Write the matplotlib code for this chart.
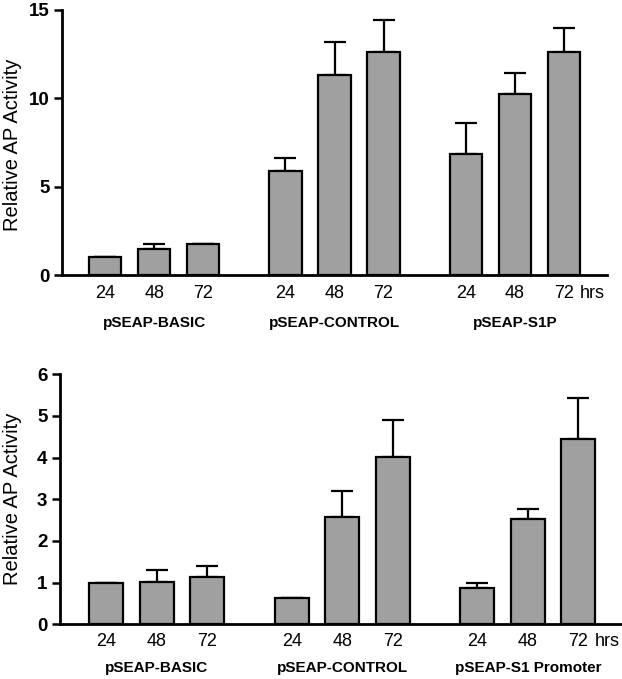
import numpy as np
import matplotlib.pyplot as plt
from matplotlib.transforms import blended_transform_factory

plt.rcParams['font.family'] = ['Liberation Sans', 'DejaVu Sans']

# data
hours = ["24", "48", "72"]
groups_top = ["pSEAP-BASIC", "pSEAP-CONTROL", "pSEAP-S1P"]
vals_top = [1.0, 1.49, 1.74, 5.9, 11.32, 12.6, 6.83, 10.23, 12.6]
err_top = [0.0, 0.25, 0.0, 0.72, 1.88, 1.81, 1.77, 1.2, 1.4]

groups_bot = ["pSEAP-BASIC", "pSEAP-CONTROL", "pSEAP-S1 Promoter"]
vals_bot = [1.0, 1.02, 1.13, 0.62, 2.57, 4.02, 0.86, 2.53, 4.44]
err_bot = [0.0, 0.28, 0.28, 0.02, 0.63, 0.88, 0.14, 0.24, 0.98]

group_step = 3.68
pos = np.array([g * group_step + i for g in range(3) for i in range(3)])

fig = plt.figure(figsize=(6.22, 6.79), dpi=100)
ax1 = fig.add_axes([62 / 622, 1 - 275 / 679, 545 / 622, 265 / 679])
ax2 = fig.add_axes([60 / 622, 1 - 624.3 / 679, 561 / 622, 250 / 679])


def draw(ax, vals, errs, groups, ymax, ystep, width, xlim, tick_y, glab_y, lab_x, lab_y):
    ax.bar(pos, vals, width=width, color='#a0a0a0', edgecolor='black',
           linewidth=1.6, zorder=2)
    ax.errorbar(pos, vals, yerr=[np.zeros(len(errs)), errs], fmt='none',
                ecolor='black', elinewidth=1.6, capsize=8, capthick=1.6,
                zorder=1)
    ax.set_ylim(0, ymax)
    ax.set_xlim(*xlim)
    yt = np.arange(0, ymax + 0.1, ystep)
    ax.set_yticks(yt)
    ax.set_yticklabels([str(int(v)) for v in yt], fontweight='bold', fontsize=13.5)
    ax.set_xticks([])
    for s in ['top', 'right']:
        ax.spines[s].set_visible(False)
    for s in ['left', 'bottom']:
        ax.spines[s].set_linewidth(2)
    ax.tick_params(axis='y', length=6, width=1.8, direction='out', pad=3)
    ax.set_ylabel("Relative AP Activity", fontsize=14.5)
    # label coords give the right-hand edge of the rotated label
    ax.yaxis.set_label_coords(lab_x, lab_y)
    tr = blended_transform_factory(ax.transData, ax.transAxes)
    for x, h in zip(pos, hours * 3):
        ax.text(x, tick_y, h, transform=tr, ha='center', va='center', fontsize=13)
    for g, name in enumerate(groups):
        ax.text(pos[g * 3 + 1], glab_y, name, transform=tr, ha='center',
                va='center', fontsize=11, fontweight='bold')
    ax.text(pos[-1] + 0.33, tick_y, "hrs", transform=tr, ha='left',
            va='center', fontsize=13)


draw(ax1, vals_top, err_top, groups_top, 15, 5, 0.66,
     (-0.88, pos[-1] + 0.88), -0.068, -0.181, -0.073, 0.49)
draw(ax2, vals_bot, err_bot, groups_bot, 6, 1, 0.67,
     (-0.92, pos[-1] + 0.85), -0.07, -0.175, -0.068, 0.50)

fig.savefig("out.png", dpi=100)
